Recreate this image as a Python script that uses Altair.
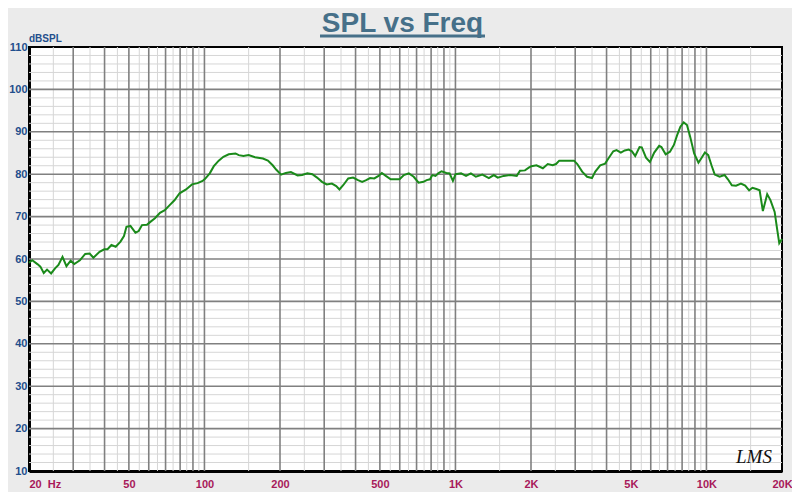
import altair as alt
import pandas as pd

# ---- data ----
freq = [
    20, 20.6, 21.6, 22.2, 22.9, 23.6, 24.5, 25.4, 26.2, 27.2,
    28.2, 29.3, 30.3, 31.9, 33.5, 34.9, 36.1, 38.2, 39.9, 41.1,
    42.6, 44.3, 46.3, 47.8, 48.9, 50.7, 53.1, 54.7, 56.4, 59.0,
    60.7, 63.5, 66.5, 69.5, 72.7, 76.1, 79.6, 84.5, 89.2, 93.9,
    98.3, 100.6, 105, 109, 114, 119, 125, 133, 137, 143,
    150, 159, 171, 179, 187, 193, 202, 211, 221, 235,
    245, 257, 269, 281, 294, 307, 322, 335, 345, 357,
    374, 391, 409, 425, 441, 457, 475, 494, 509, 528,
    552, 577, 599, 623, 652, 682, 713, 746, 768, 792,
    809, 833, 854, 880, 920, 948, 977, 1001, 1053, 1102,
    1152, 1206, 1280, 1359, 1422, 1474, 1556, 1653, 1755, 1808,
    1892, 1966, 2009, 2102, 2230, 2333, 2440, 2516, 2592, 2754,
    2968, 3058, 3198, 3345, 3500, 3608, 3774, 3948, 4067, 4255,
    4384, 4560, 4728, 4902, 5050, 5203, 5413, 5526, 5744, 5955,
    6194, 6480, 6616, 6878, 7156, 7418, 7643, 7874, 8119, 8365,
    8617, 8933, 9292, 9572, 9862, 10168, 10475, 10790, 11288, 11808,
    12176, 12624, 13118, 13724, 14266, 14791, 15252, 15812, 16289, 16781,
    17460, 17988, 18698, 19108, 19506, 20000,
]
spl = [
    59.1, 59.7, 58.8, 58.2, 56.7, 57.5, 56.6, 57.8, 58.6, 60.5,
    58.3, 59.6, 58.8, 59.7, 61.2, 61.3, 60.3, 61.7, 62.3, 62.3,
    63.3, 62.9, 64.1, 65.4, 67.6, 67.8, 66.2, 66.6, 68.0, 68.1,
    68.7, 69.6, 70.9, 71.5, 72.7, 73.9, 75.5, 76.4, 77.6, 77.9,
    78.4, 78.9, 80.2, 81.9, 83.2, 84.1, 84.7, 84.9, 84.5, 84.3,
    84.5, 84.0, 83.7, 83.2, 82.1, 81.1, 79.9, 80.3, 80.5, 79.7,
    79.8, 80.2, 80.0, 79.2, 78.2, 77.6, 77.8, 77.2, 76.4, 77.4,
    79.0, 79.2, 78.6, 78.2, 78.6, 79.1, 79.0, 79.6, 80.3, 79.6,
    78.8, 78.8, 78.8, 79.8, 80.2, 79.4, 78.0, 78.2, 78.6, 78.8,
    79.8, 79.6, 80.2, 80.7, 80.3, 80.2, 78.4, 80.0, 80.2, 79.6,
    80.2, 79.4, 79.9, 79.1, 79.8, 79.2, 79.6, 79.8, 79.6, 80.8,
    80.9, 81.6, 81.9, 82.1, 81.4, 82.4, 82.1, 82.4, 83.2, 83.2,
    83.2, 82.4, 80.6, 79.4, 79.1, 80.6, 82.1, 82.5, 83.7, 85.4,
    85.7, 85.1, 85.6, 85.8, 85.4, 84.3, 86.4, 86.3, 83.9, 82.9,
    85.1, 86.7, 86.4, 84.7, 85.3, 86.9, 89.2, 91.2, 92.2, 91.6,
    88.8, 84.9, 82.7, 83.9, 85.1, 84.5, 82.1, 79.9, 79.4, 79.8,
    78.8, 77.4, 77.3, 77.8, 77.3, 76.2, 76.8, 76.5, 76.2, 71.3,
    75.3, 73.9, 71.1, 67.2, 63.7, 64.7,
]
assert len(freq) == len(spl)

x_label_values = [20, 50, 100, 200, 500, 1000, 2000, 5000, 10000, 20000]
x_label_texts = ["20\u00a0\u00a0Hz", "50", "100", "200", "500", "1K", "2K", "5K", "10K", "20K"]
y_label_values = [10, 20, 30, 40, 50, 60, 70, 80, 90, 100, 110]

x_major_grid = [30, 40, 50, 60, 70, 80, 90, 100,
                200, 300, 400, 500, 600, 700, 800, 900, 1000,
                2000, 3000, 4000, 5000, 6000, 7000, 8000, 9000, 10000]
x_minor_grid = [25, 35, 45, 55, 65, 75, 85, 95,
                150, 250, 350, 450, 550, 650, 750, 850, 950,
                1500, 2500, 3500, 4500, 5500, 6500, 7500, 8500, 9500, 15000]
y_major_grid = [20, 30, 40, 50, 60, 70, 80, 90, 100]
y_minor_grid = [12, 14, 16, 18, 22, 24, 26, 28, 32, 34, 36, 38, 42, 44, 46, 48,
                52, 54, 56, 58, 62, 64, 66, 68, 72, 74, 76, 78, 82, 84, 86, 88,
                92, 94, 96, 98, 102, 104, 106, 108]

TITLE = "SPL vs Freq"
Y_UNIT = "dBSPL"
LOGO = "LMS"

# ---- chart ----
W, H = 753, 424
xscale = alt.Scale(type="log", domain=[20, 20000], nice=False)
yscale = alt.Scale(domain=[10, 110], nice=False, zero=False)

label_expr = " : ".join(
    f"datum.value == {v} ? '{t}'" for v, t in zip(x_label_values, x_label_texts)
) + " : ''"

xaxis = alt.Axis(
    values=x_label_values, labelExpr=label_expr, grid=False, ticks=False,
    domainColor="black", domainWidth=3, title=None,
    labelColor="#a8195a", labelFont="Liberation Sans", labelFontWeight="bold",
    labelFontSize=11, labelPadding=7, labelFlush=False, labelOverlap=False,
    labelBound=False,
    labelAlign={"condition": {"test": "datum.value == 20", "value": "left"}, "value": "center"},
)
yaxis = alt.Axis(
    values=y_label_values, grid=False, ticks=False, domainColor="black",
    domainWidth=3, title=None, labelColor="#1f4e8c", labelFont="Liberation Sans",
    labelFontWeight="bold", labelFontSize=11, labelPadding=2,
    labelFlush=False, labelOverlap=False, labelBound=False,
)

df = pd.DataFrame({"freq": freq, "spl": spl})

minor_v = alt.Chart(pd.DataFrame({"freq": x_minor_grid})).mark_rule(
    color="#d6d6d6", strokeWidth=1
).encode(x=alt.X("freq:Q", scale=xscale, axis=xaxis))
minor_h = alt.Chart(pd.DataFrame({"spl": y_minor_grid})).mark_rule(
    color="#d6d6d6", strokeWidth=1
).encode(y=alt.Y("spl:Q", scale=yscale, axis=yaxis))
major_v = alt.Chart(pd.DataFrame({"freq": x_major_grid})).mark_rule(
    color="#808080", strokeWidth=1.6
).encode(x=alt.X("freq:Q", scale=xscale, axis=xaxis))
major_h = alt.Chart(pd.DataFrame({"spl": y_major_grid})).mark_rule(
    color="#808080", strokeWidth=1.6
).encode(y=alt.Y("spl:Q", scale=yscale, axis=yaxis))

line = alt.Chart(df).mark_line(color="#1a8a1a", strokeWidth=2, interpolate="linear").encode(
    x=alt.X("freq:Q", scale=xscale, axis=xaxis),
    y=alt.Y("spl:Q", scale=yscale, axis=yaxis),
)

one = pd.DataFrame({"k": [0]})
title = alt.Chart(one).mark_text(
    font="Liberation Sans", fontWeight="bold", fontSize=28, color="#467089",
    align="center", baseline="alphabetic",
).encode(x=alt.value(373.5), y=alt.value(-15.5), text=alt.value(TITLE))
underline = alt.Chart(one).mark_rule(color="#467089", strokeWidth=3).encode(
    x=alt.value(291), x2=alt.value(456), y=alt.value(-11)
)
unit = alt.Chart(one).mark_text(
    font="Liberation Sans", fontWeight="bold", fontSize=10, color="#1f4e8c",
    align="left", baseline="alphabetic",
).encode(x=alt.value(0), y=alt.value(-5.5), text=alt.value(Y_UNIT))
logo = alt.Chart(one).mark_text(
    font="Liberation Serif", fontStyle="italic", fontSize=19, color="#111111",
    align="center", baseline="alphabetic",
).encode(x=alt.value(725), y=alt.value(416), text=alt.value(LOGO))

chart = alt.layer(
    minor_v, minor_h, major_v, major_h, line, title, underline, unit, logo
).properties(
    width=W, height=H,
    padding={"left": 21, "top": 39, "right": 10, "bottom": 21},
    autosize=alt.AutoSizeParams(type="none"),
    background="#ebebeb",
).configure_view(
    fill="white", stroke="black", strokeWidth=2
)

chart.save("out.html", embed_options={"renderer": "svg", "actions": False})
